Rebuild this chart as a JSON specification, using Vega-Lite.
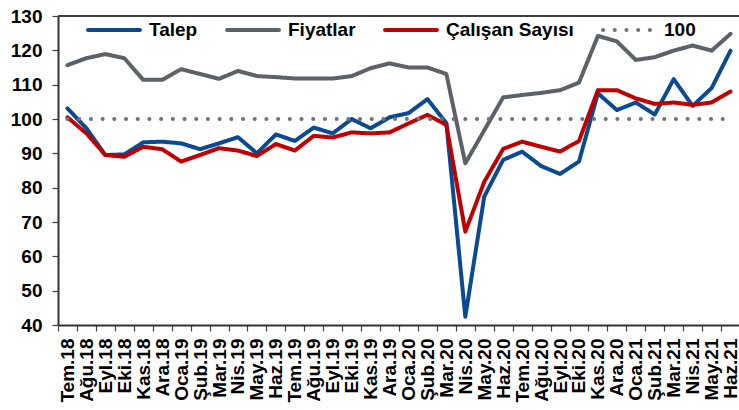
{
  "$schema": "https://vega.github.io/schema/vega-lite/v6.json",
  "autosize": {"type": "none"},
  "padding": {"left": 58, "top": 16, "right": 0, "bottom": 85},
  "width": 682,
  "height": 309,
  "background": "white",
  "config": {
    "view": {"stroke": null},
    "font": "Liberation Sans"
  },
  "data": {"values": [
    {"m":"Tem.18","s":"Talep","v":103.1},{"m":"Ağu.18","s":"Talep","v":97.3},{"m":"Eyl.18","s":"Talep","v":89.5},{"m":"Eki.18","s":"Talep","v":89.7},{"m":"Kas.18","s":"Talep","v":93.2},{"m":"Ara.18","s":"Talep","v":93.4},{"m":"Oca.19","s":"Talep","v":92.9},{"m":"Şub.19","s":"Talep","v":91.2},{"m":"Mar.19","s":"Talep","v":92.9},{"m":"Nis.19","s":"Talep","v":94.7},{"m":"May.19","s":"Talep","v":90.0},{"m":"Haz.19","s":"Talep","v":95.5},{"m":"Tem.19","s":"Talep","v":93.6},{"m":"Ağu.19","s":"Talep","v":97.5},{"m":"Eyl.19","s":"Talep","v":95.8},{"m":"Eki.19","s":"Talep","v":100.0},{"m":"Kas.19","s":"Talep","v":97.3},{"m":"Ara.19","s":"Talep","v":100.5},{"m":"Oca.20","s":"Talep","v":101.7},{"m":"Şub.20","s":"Talep","v":105.8},{"m":"Mar.20","s":"Talep","v":98.8},{"m":"Nis.20","s":"Talep","v":42.4},{"m":"May.20","s":"Talep","v":77.4},{"m":"Haz.20","s":"Talep","v":88.1},{"m":"Tem.20","s":"Talep","v":90.5},{"m":"Ağu.20","s":"Talep","v":86.3},{"m":"Eyl.20","s":"Talep","v":84.0},{"m":"Eki.20","s":"Talep","v":87.6},{"m":"Kas.20","s":"Talep","v":107.5},{"m":"Ara.20","s":"Talep","v":102.6},{"m":"Oca.21","s":"Talep","v":104.8},{"m":"Şub.21","s":"Talep","v":101.3},{"m":"Mar.21","s":"Talep","v":111.6},{"m":"Nis.21","s":"Talep","v":103.8},{"m":"May.21","s":"Talep","v":109.0},{"m":"Haz.21","s":"Talep","v":119.9},
    {"m":"Tem.18","s":"Fiyatlar","v":115.7},{"m":"Ağu.18","s":"Fiyatlar","v":117.7},{"m":"Eyl.18","s":"Fiyatlar","v":118.9},{"m":"Eki.18","s":"Fiyatlar","v":117.7},{"m":"Kas.18","s":"Fiyatlar","v":111.4},{"m":"Ara.18","s":"Fiyatlar","v":111.4},{"m":"Oca.19","s":"Fiyatlar","v":114.5},{"m":"Şub.19","s":"Fiyatlar","v":113.1},{"m":"Mar.19","s":"Fiyatlar","v":111.7},{"m":"Nis.19","s":"Fiyatlar","v":114.0},{"m":"May.19","s":"Fiyatlar","v":112.5},{"m":"Haz.19","s":"Fiyatlar","v":112.2},{"m":"Tem.19","s":"Fiyatlar","v":111.8},{"m":"Ağu.19","s":"Fiyatlar","v":111.8},{"m":"Eyl.19","s":"Fiyatlar","v":111.8},{"m":"Eki.19","s":"Fiyatlar","v":112.5},{"m":"Kas.19","s":"Fiyatlar","v":114.8},{"m":"Ara.19","s":"Fiyatlar","v":116.2},{"m":"Oca.20","s":"Fiyatlar","v":115.0},{"m":"Şub.20","s":"Fiyatlar","v":115.0},{"m":"Mar.20","s":"Fiyatlar","v":113.1},{"m":"Nis.20","s":"Fiyatlar","v":87.1},{"m":"May.20","s":"Fiyatlar","v":96.7},{"m":"Haz.20","s":"Fiyatlar","v":106.3},{"m":"Tem.20","s":"Fiyatlar","v":107.0},{"m":"Ağu.20","s":"Fiyatlar","v":107.6},{"m":"Eyl.20","s":"Fiyatlar","v":108.4},{"m":"Eki.20","s":"Fiyatlar","v":110.6},{"m":"Kas.20","s":"Fiyatlar","v":124.2},{"m":"Ara.20","s":"Fiyatlar","v":122.6},{"m":"Oca.21","s":"Fiyatlar","v":117.2},{"m":"Şub.21","s":"Fiyatlar","v":118.0},{"m":"Mar.21","s":"Fiyatlar","v":119.9},{"m":"Nis.21","s":"Fiyatlar","v":121.4},{"m":"May.21","s":"Fiyatlar","v":119.9},{"m":"Haz.21","s":"Fiyatlar","v":124.8},
    {"m":"Tem.18","s":"Çalışan Sayısı","v":100.5},{"m":"Ağu.18","s":"Çalışan Sayısı","v":95.8},{"m":"Eyl.18","s":"Çalışan Sayısı","v":89.5},{"m":"Eki.18","s":"Çalışan Sayısı","v":89.0},{"m":"Kas.18","s":"Çalışan Sayısı","v":91.9},{"m":"Ara.18","s":"Çalışan Sayısı","v":91.2},{"m":"Oca.19","s":"Çalışan Sayısı","v":87.6},{"m":"Şub.19","s":"Çalışan Sayısı","v":89.5},{"m":"Mar.19","s":"Çalışan Sayısı","v":91.5},{"m":"Nis.19","s":"Çalışan Sayısı","v":90.8},{"m":"May.19","s":"Çalışan Sayısı","v":89.2},{"m":"Haz.19","s":"Çalışan Sayısı","v":92.7},{"m":"Tem.19","s":"Çalışan Sayısı","v":90.8},{"m":"Ağu.19","s":"Çalışan Sayısı","v":95.1},{"m":"Eyl.19","s":"Çalışan Sayısı","v":94.6},{"m":"Eki.19","s":"Çalışan Sayısı","v":96.1},{"m":"Kas.19","s":"Çalışan Sayısı","v":95.8},{"m":"Ara.19","s":"Çalışan Sayısı","v":96.1},{"m":"Oca.20","s":"Çalışan Sayısı","v":98.7},{"m":"Şub.20","s":"Çalışan Sayısı","v":101.2},{"m":"Mar.20","s":"Çalışan Sayısı","v":98.3},{"m":"Nis.20","s":"Çalışan Sayısı","v":67.2},{"m":"May.20","s":"Çalışan Sayısı","v":81.7},{"m":"Haz.20","s":"Çalışan Sayısı","v":91.3},{"m":"Tem.20","s":"Çalışan Sayısı","v":93.4},{"m":"Ağu.20","s":"Çalışan Sayısı","v":91.9},{"m":"Eyl.20","s":"Çalışan Sayısı","v":90.5},{"m":"Eki.20","s":"Çalışan Sayısı","v":93.6},{"m":"Kas.20","s":"Çalışan Sayısı","v":108.4},{"m":"Ara.20","s":"Çalışan Sayısı","v":108.4},{"m":"Oca.21","s":"Çalışan Sayısı","v":106.0},{"m":"Şub.21","s":"Çalışan Sayısı","v":104.4},{"m":"Mar.21","s":"Çalışan Sayısı","v":104.8},{"m":"Nis.21","s":"Çalışan Sayısı","v":104.1},{"m":"May.21","s":"Çalışan Sayısı","v":104.8},{"m":"Haz.21","s":"Çalışan Sayısı","v":108.0},
    {"m":"Tem.18","s":"100","v":100},{"m":"Ağu.18","s":"100","v":100},{"m":"Eyl.18","s":"100","v":100},{"m":"Eki.18","s":"100","v":100},{"m":"Kas.18","s":"100","v":100},{"m":"Ara.18","s":"100","v":100},{"m":"Oca.19","s":"100","v":100},{"m":"Şub.19","s":"100","v":100},{"m":"Mar.19","s":"100","v":100},{"m":"Nis.19","s":"100","v":100},{"m":"May.19","s":"100","v":100},{"m":"Haz.19","s":"100","v":100},{"m":"Tem.19","s":"100","v":100},{"m":"Ağu.19","s":"100","v":100},{"m":"Eyl.19","s":"100","v":100},{"m":"Eki.19","s":"100","v":100},{"m":"Kas.19","s":"100","v":100},{"m":"Ara.19","s":"100","v":100},{"m":"Oca.20","s":"100","v":100},{"m":"Şub.20","s":"100","v":100},{"m":"Mar.20","s":"100","v":100},{"m":"Nis.20","s":"100","v":100},{"m":"May.20","s":"100","v":100},{"m":"Haz.20","s":"100","v":100},{"m":"Tem.20","s":"100","v":100},{"m":"Ağu.20","s":"100","v":100},{"m":"Eyl.20","s":"100","v":100},{"m":"Eki.20","s":"100","v":100},{"m":"Kas.20","s":"100","v":100},{"m":"Ara.20","s":"100","v":100},{"m":"Oca.21","s":"100","v":100},{"m":"Şub.21","s":"100","v":100},{"m":"Mar.21","s":"100","v":100},{"m":"Nis.21","s":"100","v":100},{"m":"May.21","s":"100","v":100},{"m":"Haz.21","s":"100","v":100}
  ]},
  "layer": [
    {
      "mark": {"type": "line", "strokeWidth": 4, "strokeCap": "round", "strokeJoin": "round"},
      "encoding": {
        "x": {
          "field": "m", "type": "ordinal", "sort": null, "bandPosition": 0.5,
          "scale": {"type": "band", "paddingInner": 0, "paddingOuter": 0},
          "axis": {
            "title": null, "tickBand": "extent", "labelAngle": 270, "labelAlign": "right", "labelBaseline": "middle",
            "labelPadding": 7, "labelFontSize": 19, "labelFontWeight": "bold", "labelColor": "#000000",
            "labelFont": "Liberation Sans",
            "tickSize": 6, "tickColor": "#404040", "tickWidth": 1.2, "domainColor": "#333333", "domainWidth": 2,
            "grid": false, "labelOverlap": false
          }
        },
        "y": {
          "field": "v", "type": "quantitative",
          "scale": {"domain": [40, 130], "nice": false, "zero": false},
          "axis": {
            "title": null, "values": [40, 50, 60, 70, 80, 90, 100, 110, 120, 130], "labelOverlap": false,
            "labelFontSize": 19, "labelFontWeight": "bold", "labelColor": "#000000", "labelFont": "Liberation Sans",
            "labelPadding": 10, "tickSize": 6, "tickColor": "#404040", "tickWidth": 1.2,
            "domainColor": "#333333", "domainWidth": 2, "grid": false
          }
        },
        "color": {
          "field": "s", "type": "nominal",
          "scale": {"domain": ["Talep", "Fiyatlar", "Çalışan Sayısı", "100"], "range": ["#0a4a92", "#5d6268", "#c00000", "#6f7379"]},
          "legend": {
            "title": null, "orient": "none", "legendX": 28, "legendY": -14, "direction": "horizontal", "columns": 4,
            "padding": 0, "symbolType": "stroke", "symbolStrokeWidth": 4, "symbolSize": 2700,
            "labelFontSize": 19, "labelFontWeight": "bold", "labelColor": "#000000", "labelFont": "Liberation Sans",
            "labelOffset": 7, "columnPadding": 21, "labelLimit": 300,
            "encode": {"symbols": {"update": {"strokeCap": {"value": "round"}}}}
          }
        },
        "strokeDash": {
          "field": "s", "type": "nominal",
          "scale": {"domain": ["Talep", "Fiyatlar", "Çalışan Sayısı", "100"], "range": [[1, 0], [1, 0], [1, 0], [0.1, 11.6]]},
          "legend": null
        }
      }
    },
    {
      "mark": {"type": "rule", "color": "#404040", "strokeWidth": 1.5},
      "encoding": {
        "y": {
          "datum": 130, "type": "quantitative",
          "scale": {"domain": [40, 130], "nice": false, "zero": false},
          "axis": {
            "title": null, "values": [40, 50, 60, 70, 80, 90, 100, 110, 120, 130], "labelOverlap": false,
            "labelFontSize": 19, "labelFontWeight": "bold", "labelColor": "#000000", "labelFont": "Liberation Sans",
            "labelPadding": 10, "tickSize": 6, "tickColor": "#404040", "tickWidth": 1.2,
            "domainColor": "#333333", "domainWidth": 2, "grid": false
          }
        }
      }
    }
  ]
}
